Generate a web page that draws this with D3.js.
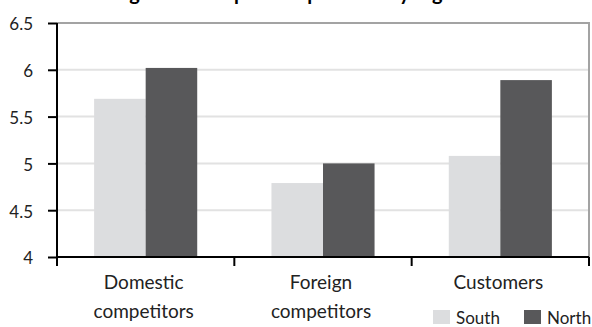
<!DOCTYPE html>
<html>
<head>
<meta charset="utf-8">
<script src="https://cdn.jsdelivr.net/npm/d3@7"></script>
<style>
  html, body { margin: 0; padding: 0; background: #fff; }
  svg { display: block; font-family: Lato, "Open Sans", sans-serif; }
</style>
</head>
<body>
<svg id="chart" width="592" height="327"></svg>
<script>
// Data
const categories = [["Domestic", "competitors"], ["Foreign", "competitors"], ["Customers"]];
const seriesNames = ["South", "North"];
const south = [5.69, 4.79, 5.08];
const north = [6.02, 5.0, 5.89];
const yTicks = [4, 4.5, 5, 5.5, 6, 6.5];
const titleText = "Degree of competitive pressure by region";

const colors = { South: "#dcdddf", North: "#58585a" };

const svg = d3.select("#chart");
const margin = { left: 57, right: 3, top: 23, bottom: 70 };
const W = 592, H = 327;
const x0 = margin.left, x1 = W - margin.right;
const y0 = H - margin.bottom, y1 = margin.top;

const catIdx = categories.map((d, i) => i);
const x = d3.scaleBand().domain(catIdx).range([x0, x1]).paddingInner(0).paddingOuter(0);
const xs = d3.scaleBand().domain(seriesNames).range([0, x.bandwidth()]).paddingInner(0).paddingOuter(0.72);
const y = d3.scaleLinear().domain([4, 6.5]).range([y0, y1]);

// Title (sits partly above the frame)
svg.append("text")
  .attr("x", 287).attr("y", 0)
  .attr("text-anchor", "middle")
  .attr("font-weight", "bold")
  .attr("font-size", 20)
  .attr("fill", "#000")
  .text(titleText);

// Gridlines
svg.append("g").selectAll("line")
  .data(yTicks.filter(t => t > 4 && t < 6.5))
  .join("line")
  .attr("x1", x0).attr("x2", x1)
  .attr("y1", d => y(d)).attr("y2", d => y(d))
  .attr("stroke", "#e2e2e2").attr("stroke-width", 2);

// Plot frame (top and right)
svg.append("path")
  .attr("d", `M${x0},${y(6.5)}H${x1}V${y0}`)
  .attr("fill", "none").attr("stroke", "#a3a3a3").attr("stroke-width", 2);

// Bars
const data = [];
catIdx.forEach(i => {
  data.push({ cat: i, s: "South", v: south[i] });
  data.push({ cat: i, s: "North", v: north[i] });
});
svg.append("g").selectAll("rect")
  .data(data)
  .join("rect")
  .attr("x", d => x(d.cat) + xs(d.s))
  .attr("width", xs.bandwidth())
  .attr("y", d => y(d.v))
  .attr("height", d => y0 - y(d.v))
  .attr("fill", d => colors[d.s]);

// Y axis
const yAxis = d3.axisLeft(y).tickValues(yTicks).tickSize(9).tickPadding(15)
  .tickFormat(d => String(d));
const gy = svg.append("g").attr("transform", `translate(${x0},0)`).call(yAxis);
gy.select(".domain").attr("stroke", "#000").attr("stroke-width", 2)
  .attr("d", `M0,${y1}V${y0 + 9}`);
gy.selectAll(".tick line").attr("stroke", "#000").attr("stroke-width", 2);
gy.selectAll(".tick text").attr("font-size", 17).attr("fill", "#222")
  .attr("font-family", "Lato, sans-serif").attr("dy", "0.4em");

// X axis: ticks at band boundaries
const boundaries = catIdx.map(i => x(i)).concat([x1]);
svg.append("line")
  .attr("x1", x0).attr("x2", x1).attr("y1", y0).attr("y2", y0)
  .attr("stroke", "#000").attr("stroke-width", 2);
svg.append("g").selectAll("line")
  .data(boundaries)
  .join("line")
  .attr("x1", d => d).attr("x2", d => d)
  .attr("y1", y0).attr("y2", y0 + 9)
  .attr("stroke", "#000").attr("stroke-width", 2);

// Category labels
const lab = svg.append("g").selectAll("text")
  .data(catIdx)
  .join("text")
  .attr("text-anchor", "middle")
  .attr("font-size", 19)
  .attr("fill", "#222")
  .attr("transform", i => `translate(${x(i) + x.bandwidth() / 2 - 2},${y0 + 32})`);
lab.selectAll("tspan")
  .data(i => categories[i])
  .join("tspan")
  .attr("x", 0)
  .attr("dy", (d, j) => j === 0 ? 0 : 29)
  .text(d => d);

// Legend
const legend = svg.append("g").attr("transform", `translate(433,${H - 17})`);
const legX = [0, 91];
seriesNames.forEach((s, i) => {
  const g = legend.append("g").attr("transform", `translate(${legX[i]},0)`);
  g.append("rect").attr("x", 0).attr("y", 0).attr("width", 17).attr("height", 14)
    .attr("fill", colors[s]);
  g.append("text").attr("x", 23).attr("y", 14).attr("font-size", 17).attr("fill", "#222").text(s);
});
</script>
</body>
</html>
